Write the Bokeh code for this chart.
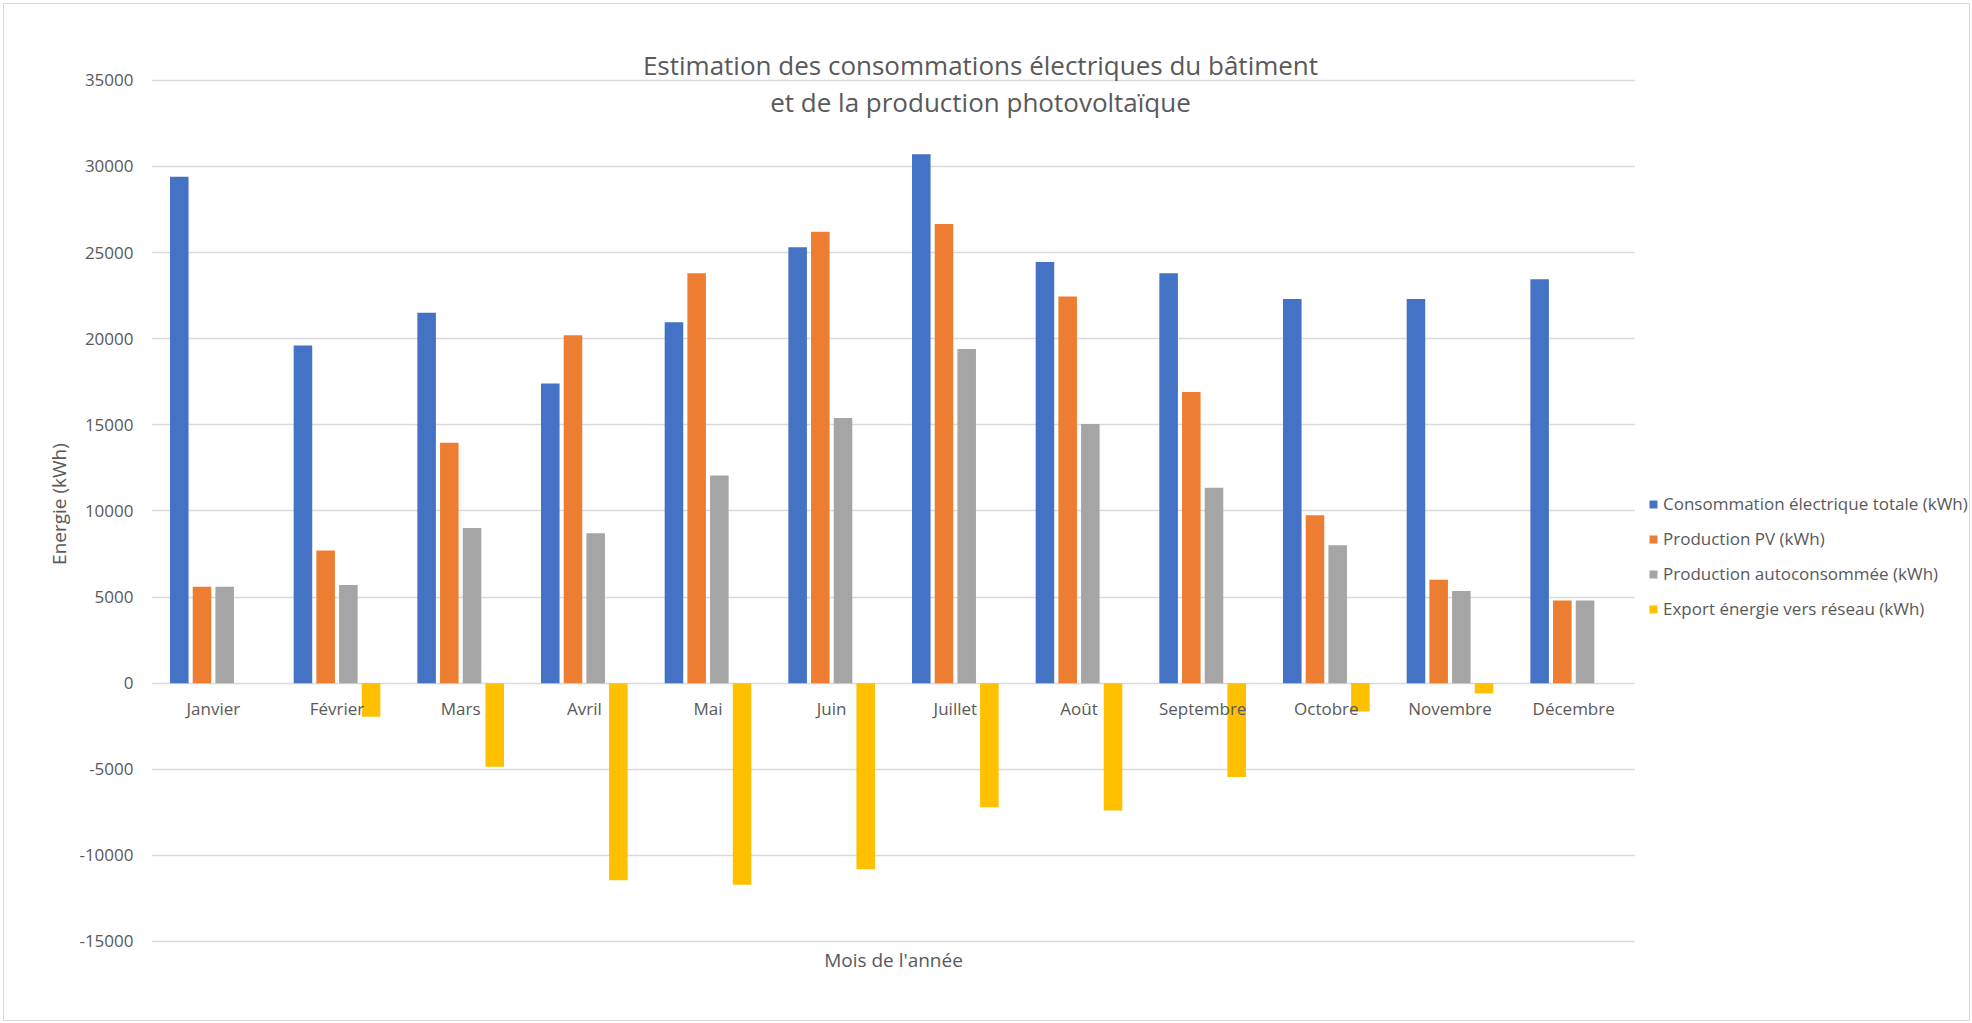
from bokeh.plotting import figure
from bokeh.layouts import row
from bokeh.models import (FactorRange, Range1d, SingleIntervalTicker, Label,
                          NumeralTickFormatter, ColumnDataSource, Legend, LegendItem)
from bokeh.transform import dodge
from bokeh.embed import file_html
from bokeh.resources import INLINE

months = ["Janvier", "Février", "Mars", "Avril", "Mai", "Juin", "Juillet",
          "Août", "Septembre", "Octobre", "Novembre", "Décembre"]
conso = [29400, 19600, 21500, 17400, 20950, 25300, 30700, 24450, 23800, 22300, 22300, 23450]
prod_pv = [5600, 7700, 13950, 20200, 23800, 26200, 26650, 22450, 16900, 9750, 6000, 4800]
autoconso = [5600, 5700, 9000, 8700, 12050, 15400, 19400, 15050, 11350, 8000, 5350, 4800]
export = [0, -1950, -4850, -11450, -11700, -10800, -7200, -7400, -5450, -1650, -600, 0]

series_names = ["Consommation électrique totale (kWh)", "Production PV (kWh)",
                "Production autoconsommée (kWh)", "Export énergie vers réseau (kWh)"]
colors = ["#4472C4", "#ED7D31", "#A5A5A5", "#FFC000"]
y_ticks_interval = 5000

FONT = "Open Sans"
TXT = "#595959"

src = ColumnDataSource(dict(month=months, conso=conso, pv=prod_pv, auto=autoconso, exp=export))
cols = ["conso", "pv", "auto", "exp"]

# ---- main chart ----
p = figure(width=1631, height=1016, x_range=FactorRange(factors=months),
           y_range=Range1d(-16800, 37600), output_backend="svg",
           toolbar_location=None, min_border_left=147, min_border_right=0,
           min_border_top=31, min_border_bottom=48, title_location=None)
p.outline_line_color = None

step = 0.1835
bw = 0.15
for i, (c, col) in enumerate(zip(cols, colors)):
    off = (i - 1.5) * step
    p.vbar(x=dodge("month", off, range=p.x_range), top=c, bottom=0, width=bw,
           source=src, fill_color=col, line_color=None)

# grid
p.xgrid.visible = False
p.ygrid.grid_line_color = "#D9D9D9"
p.ygrid.grid_line_width = 1.5

# y axis
p.yaxis.ticker = SingleIntervalTicker(interval=y_ticks_interval, num_minor_ticks=0)
p.ygrid.ticker = p.yaxis.ticker
p.yaxis.formatter = NumeralTickFormatter(format="0")
p.yaxis.axis_line_color = None
p.yaxis.major_tick_line_color = None
p.yaxis.minor_tick_line_color = None
p.yaxis.major_label_standoff = 12
p.yaxis.major_label_text_font = FONT
p.yaxis.major_label_text_font_size = "17px"
p.yaxis.major_label_text_color = TXT
p.yaxis.axis_label = "Energie (kWh)"
p.yaxis.axis_label_text_font = FONT
p.yaxis.axis_label_text_font_size = "19px"
p.yaxis.axis_label_text_font_style = "normal"
p.yaxis.axis_label_text_color = TXT
p.yaxis.axis_label_standoff = 4

# x axis at zero
p.xaxis.fixed_location = 0
p.xaxis.axis_line_color = None
p.xaxis.major_tick_line_color = None
p.xaxis.minor_tick_line_color = None
p.xaxis.major_label_standoff = 8
p.xaxis.major_label_text_font = FONT
p.xaxis.major_label_text_font_size = "17px"
p.xaxis.major_label_text_color = TXT

# titles
for txt, yy in [("Estimation des consommations électriques du bâtiment", 908),
                ("et de la production photovoltaïque", 871)]:
    p.add_layout(Label(x=829, y=yy, x_units="screen", y_units="screen", text=txt,
                       text_align="center", text_baseline="middle",
                       text_font=FONT, text_font_size="26px", text_color=TXT))

p.add_layout(Label(x=742, y=13, x_units="screen", y_units="screen", text="Mois de l'année",
                   text_align="center", text_baseline="middle",
                   text_font=FONT, text_font_size="19px", text_color=TXT))

# ---- legend panel (legend swatches only; its bars have zero size) ----
pl = figure(width=334, height=1016, x_axis_type=None, y_axis_type=None,
            x_range=FactorRange(factors=months), y_range=Range1d(100000, 200000),
            output_backend="svg", toolbar_location=None, min_border=0,
            title_location=None)
pl.outline_line_color = None
pl.grid.visible = False
items = []
for name, c, col in zip(series_names, cols, colors):
    r = pl.vbar(x="month", top=c, bottom=c, width=0, source=src,
                fill_color=col, line_color=None)
    items.append(LegendItem(label=name, renderers=[r]))

lg = Legend(items=items, location=(13, 352), orientation="vertical",
            glyph_width=10, glyph_height=10, label_standoff=5, label_height=23,
            spacing=12, padding=0, margin=0, border_line_color=None,
            background_fill_alpha=0, label_text_font=FONT,
            label_text_font_size="17px", label_text_color=TXT)
pl.add_layout(lg)

layout = row(p, pl, spacing=0)
layout.styles = {"border": "1px solid #D9D9D9", "margin-left": "3px", "margin-top": "3px"}

open("out.html", "w").write(file_html(layout, INLINE))
